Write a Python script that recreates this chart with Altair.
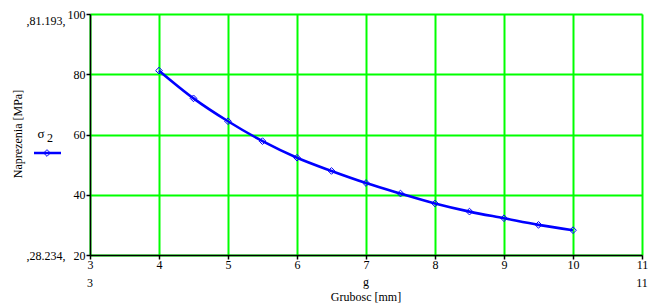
import altair as alt
import pandas as pd

g_vals = [4.0, 4.5, 5.0, 5.5, 6.0, 6.5, 7.0, 7.5, 8.0, 8.5, 9.0, 9.5, 10.0]
sigma_vals = [81.193, 72.0, 64.4, 57.8, 52.3, 47.9, 43.9, 40.4, 37.1, 34.4, 32.2, 30.0, 28.234]
x_ticks = [3, 4, 5, 6, 7, 8, 9, 10, 11]
y_ticks = [20, 40, 60, 80, 100]

df = pd.DataFrame({"g": g_vals, "s": sigma_vals})

FONT = "Liberation Serif"
BLUE = "#0000ff"
GREEN = "#00ff00"

OX, OY = 90, 14  # plot origin in page pixels

xs = alt.X("g:Q", scale=alt.Scale(domain=[3, 11], nice=False, zero=False),
           axis=alt.Axis(values=x_ticks, title=None, grid=True, gridColor=GREEN,
                         gridWidth=2, gridOpacity=1, domainColor="black",
                         domainWidth=1.5, tickWidth=1.5,
                         tickColor="black", tickSize=4, labelFont=FONT,
                         labelFontSize=12, labelColor="black", labelPadding=0,
                         labelFlush=False))
ys = alt.Y("s:Q", scale=alt.Scale(domain=[20, 100], nice=False, zero=False),
           axis=alt.Axis(values=y_ticks, title=None, grid=True, gridColor=GREEN,
                         gridWidth=2, gridOpacity=1, domainColor="black",
                         domainWidth=1.5, tickWidth=1.5,
                         tickColor="black", tickSize=4, labelFont=FONT,
                         labelFontSize=12, labelColor="black", labelPadding=1,
                         labelFlush=False))

base = alt.Chart(df)
line = base.mark_line(color=BLUE, strokeWidth=2.6, interpolate="monotone").encode(x=xs, y=ys)
pts = base.mark_point(shape="diamond", color=BLUE, filled=False, size=45,
                      strokeWidth=1, opacity=1).encode(x=xs, y=ys)

one = alt.Data(values=[{"a": 1}])


def txt(t, px, py, size=12, align="center", angle=None, baseline="middle"):
    kw = dict(text=t, font=FONT, fontSize=size, color="black", align=align,
              baseline=baseline)
    if angle is not None:
        kw["angle"] = angle
    return alt.Chart(one).mark_text(**kw).encode(
        x=alt.value(px - OX), y=alt.value(py - OY))


smax = f",{max(sigma_vals):.3f},"
smin = f",{min(sigma_vals):.3f},"

texts = [
    txt(smax, 46, 21),
    txt(smin, 46, 256),
    txt(str(x_ticks[0]), 90, 283),
    txt(str(x_ticks[-1]), 642, 283),
    txt("g", 366, 282),
    txt("Grubosc [mm]", 366, 297),
    txt("Naprezenia [MPa]", 18, 134, angle=270),
    txt("σ", 41, 134, size=13),
    txt("2", 50, 138, size=12),
]

leg_line = alt.Chart(one).mark_rule(color=BLUE, strokeWidth=2.5).encode(
    x=alt.value(34 - OX), x2=alt.value(61 - OX), y=alt.value(153 - OY))
leg_pt = alt.Chart(one).mark_point(shape="diamond", color=BLUE, filled=False,
                                    size=45, strokeWidth=1, opacity=1).encode(
    x=alt.value(47 - OX), y=alt.value(153 - OY))

chart = alt.layer(line, pts, leg_line, leg_pt, *texts).properties(
    width=552, height=241,
    autosize=alt.AutoSizeParams(type="none"),
    padding={"left": OX, "top": OY, "right": 665 - OX - 552, "bottom": 306 - OY - 241},
).configure_view(stroke=None).configure(background="white")

chart.save("out.html", embed_options={"renderer": "svg", "actions": False})
